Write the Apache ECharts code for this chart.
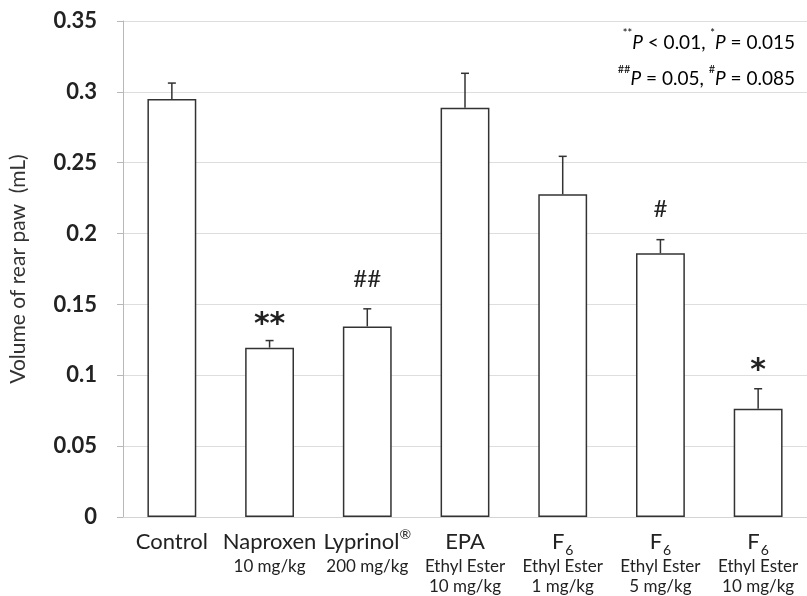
<!DOCTYPE html>
<html>
<head>
<meta charset="utf-8">
<script src="https://cdn.jsdelivr.net/npm/echarts@6/dist/echarts.min.js"></script>
<style>
html,body{margin:0;padding:0;background:#fff;}
#chart{width:807px;height:596px;}
</style>
</head>
<body>
<div id="chart"></div>
<script>
// ---- data ----
const categories = ['Control', 'Naproxen', 'Lyprinol', 'EPA', 'F6 1', 'F6 5', 'F6 10'];
const mainNames = ['Control', 'Naproxen', 'Lyprinol', 'EPA', 'F', 'F', 'F'];
const mainSups = ['', '', '®', '', '', '', ''];
const mainSubs = ['', '', '', '', '6', '6', '6'];
const subLine1 = ['', '10 mg/kg', '200 mg/kg', 'Ethyl Ester', 'Ethyl Ester', 'Ethyl Ester', 'Ethyl Ester'];
const subLine2 = ['', '', '', '10 mg/kg', '1 mg/kg', '5 mg/kg', '10 mg/kg'];
const means = [0.295, 0.1195, 0.1345, 0.2888, 0.2277, 0.1861, 0.0763];
const errors = [0.0112, 0.005, 0.0124, 0.0243, 0.0268, 0.0096, 0.0142];
const marks = ['', '**', '##', '', '', '#', '*'];
const yTicks = { min: 0, max: 0.35, step: 0.05 };
const pLine1 = [['sup', '**'], ['it', 'P'], ['n', ' < 0.01, '], ['sup', '*'], ['it', 'P'], ['n', ' = 0.015']];
const pLine2 = [['sup', '##'], ['it', 'P'], ['n', ' = 0.05, '], ['sup', '#'], ['it', 'P'], ['n', ' = 0.085']];

// ---- chart ----
const chart = echarts.init(document.getElementById('chart'));
const FONT = 'Lato, "Open Sans", sans-serif';

function labelFormatter(value, idx) {
  let s = '{m|' + mainNames[idx] + '}';
  if (mainSups[idx]) s += '{rg|' + mainSups[idx] + '}';
  if (mainSubs[idx]) s += '{sb|' + mainSubs[idx] + '}';
  if (subLine1[idx]) s += '\n{t|' + subLine1[idx] + '}';
  if (subLine2[idx]) s += '\n{t|' + subLine2[idx] + '}';
  return s;
}

const markOffset = { '**': 0, '*': 3, '##': 30, '#': 30 };
const markSize = { '**': 30, '*': 30, '##': 24, '#': 24 };

function pText(parts) {
  return parts.map(p => '{' + p[0] + '|' + p[1] + '}').join('');
}
const pRich = {
  n: { fontSize: 19, fontFamily: FONT, color: '#222', lineHeight: 24, verticalAlign: 'bottom' },
  it: { fontSize: 19, fontFamily: FONT, fontStyle: 'italic', color: '#222', lineHeight: 24, verticalAlign: 'bottom' },
  sup: { fontSize: 11, fontFamily: FONT, color: '#222', lineHeight: 16, verticalAlign: 'top' }
};

chart.setOption({
  animation: false,
  backgroundColor: '#fff',
  grid: { left: 120, top: 21, width: 690, bottom: 79, containLabel: false },
  xAxis: {
    type: 'category',
    data: categories,
    axisLine: { show: true, lineStyle: { color: '#d4d4d4', width: 1 } },
    axisTick: { show: false },
    axisLabel: {
      interval: 0,
      margin: 10,
      formatter: labelFormatter,
      verticalAlign: 'top',
      rich: {
        m: { fontSize: 22, fontFamily: FONT, color: '#222', lineHeight: 30 },
        rg: { fontSize: 14, fontFamily: FONT, color: '#222', lineHeight: 22, verticalAlign: 'top' },
        sb: { fontSize: 14, fontFamily: FONT, color: '#222', lineHeight: 28, verticalAlign: 'bottom', padding: [0, 0, 0, 1] },
        t: { fontSize: 17, fontFamily: FONT, color: '#222', lineHeight: 20 }
      }
    }
  },
  yAxis: {
    type: 'value',
    min: yTicks.min,
    max: yTicks.max,
    interval: yTicks.step,
    name: 'Volume of rear paw  (mL)',
    nameLocation: 'middle',
    nameGap: 94,
    nameRotate: 90,
    nameTextStyle: { fontSize: 21, fontFamily: FONT, color: '#333' },
    axisLine: { show: true, lineStyle: { color: '#b8b8b8', width: 1 } },
    axisTick: { show: true, length: 6, lineStyle: { color: '#b8b8b8' } },
    axisLabel: {
      margin: 26,
      fontSize: 22,
      fontWeight: 'bold',
      fontFamily: FONT,
      color: '#222',
      formatter: v => String(+v.toFixed(2))
    },
    splitLine: { show: true, lineStyle: { color: '#dedede', width: 1 } }
  },
  series: [
    {
      type: 'bar',
      data: means,
      barWidth: '50%',
      itemStyle: { color: '#ffffff', borderColor: '#333', borderWidth: 1.5 },
      z: 2
    },
    {
      type: 'custom',
      z: 3,
      data: means.map((m, i) => [i, m, m + errors[i]]),
      renderItem: function (params, api) {
        const i = api.value(0);
        const base = api.coord([i, api.value(1)]);
        const top = api.coord([i, api.value(2)]);
        const cap = 4;
        const children = [
          { type: 'line', shape: { x1: base[0], y1: base[1], x2: top[0], y2: top[1] }, style: { stroke: '#333', lineWidth: 1.5 } },
          { type: 'line', shape: { x1: top[0] - cap, y1: top[1], x2: top[0] + cap, y2: top[1] }, style: { stroke: '#333', lineWidth: 1.5 } }
        ];
        const mk = marks[i];
        if (mk) {
          const star = mk.indexOf('*') >= 0;
          children.push({
            type: 'text',
            style: {
              text: mk,
              x: top[0],
              y: top[1] - markOffset[mk],
              align: 'center',
              verticalAlign: star ? 'bottom' : 'middle',
              fontSize: markSize[mk],
              fontWeight: star ? 'bold' : 'normal',
              fontFamily: star ? '"DejaVu Sans", sans-serif' : FONT,
              fill: '#222'
            }
          });
        }
        return { type: 'group', children: children };
      }
    }
  ],
  graphic: [
    { type: 'text', right: 12, top: 28, style: { text: pText(pLine1), rich: pRich, align: 'right' } },
    { type: 'text', right: 12, top: 64, style: { text: pText(pLine2), rich: pRich, align: 'right' } }
  ]
});
</script>
</body>
</html>
